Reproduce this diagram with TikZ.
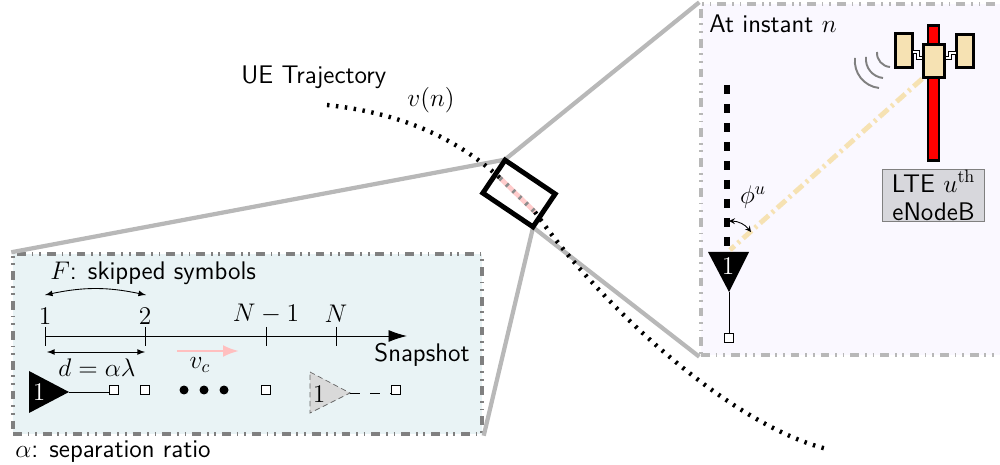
\documentclass[tikz,border=0pt]{standalone}
\usepackage{fix-cm}
\usepackage{xcolor}
\usepackage{amsmath}
\usetikzlibrary{shapes,arrows,arrows.meta,positioning,fit,calc}
\definecolor{snapfill}{RGB}{233,243,245}
\definecolor{instfill}{RGB}{250,248,255}
\definecolor{panelfill}{RGB}{246,226,179}
\definecolor{labelfill}{RGB}{215,215,220}

\begin{document}
\begin{tikzpicture}[
  x=0.02cm,y=-0.02cm,
  txt/.style={font=\fontsize{14.5}{16.5}\selectfont\sffamily,inner sep=0pt},
  num/.style={font=\fontsize{14.5}{16.5}\selectfont,inner sep=0pt},
  framed/.style={rectangle,inner sep=0pt,line width=2pt,
                 dash pattern=on 5pt off 3.3pt on 1pt off 3.3pt on 1pt off 3.4pt},
  guide/.style={line width=2.4pt,black!28},
  traj/.style={line width=2.5pt,dash pattern=on 1.4pt off 3.7pt},
  slot/.style={draw,fill=white,minimum size=0.18cm,inner sep=0pt,line width=0.5pt},
  ball/.style={circle,fill=black,minimum size=0.18cm,inner sep=0pt},
  dbl/.style={<->,>=latex,line width=0.5pt},
  tick/.style={line width=0.5pt},
  panel/.style={draw,fill=panelfill,line width=1.5pt,inner sep=0pt},
  wave/.style={line width=1.1pt,black!50},
  hinge/.style={line width=0.6pt,double=white,double distance=0.6pt}
]
\path[clip,use as bounding box] (0,0) rectangle (1000,465);
\fill[white] (0,0) rectangle (1000,465);

%% ── Zoom frames ──────────────────────────────────────────────────────────────
\node[framed,draw=black!50,fill=snapfill,minimum width=9.38cm,minimum height=3.6cm]
  (snapbox) at (247.5,344) {};
\node[framed,draw=black!28,fill=instfill,minimum width=6.3cm,minimum height=7.02cm]
  (instbox) at (858.5,179.5) {};
\node[draw=none,minimum width=1.21cm,minimum height=0.794cm,rotate=-34,inner sep=0pt]
  (zoombox) at (519,193.5) {};

%% ── Lines from the small box to the frames ───────────────────────────────────
\draw[guide] (zoombox.north west) -- (snapbox.north west);
\draw[guide] (zoombox.north west) -- (instbox.north west);
\draw[guide] (zoombox.south east) -- (snapbox.south east);
\draw[guide] (zoombox.south east) -- (instbox.south west);

%% ── Trajectory ───────────────────────────────────────────────────────────────
\coordinate (trajin) at (500,178);
\coordinate (trajout) at (535,212);
\draw[line width=2.6pt,red!20] (trajin) -- (trajout);
\draw[traj] (327,105) .. controls (400,113) and (455,137) .. (trajin);
\draw[traj,black!45] (trajin) -- (trajout);
\draw[traj] (trajout) .. controls (600,305) and (730,425) .. (827,449);
\node[draw,line width=2.8pt,minimum width=1.21cm,minimum height=0.794cm,rotate=-34,inner sep=0pt]
  (zoomframe) at (zoombox) {};
\node[txt,anchor=west] (ue) at (241,77) {UE Trajectory};
\node[num] (vn) at (431,100) {$v(n)$};

%% ── Snapshot axis ────────────────────────────────────────────────────────────
\coordinate (axstart) at (45,336);
\coordinate (axend) at (407,336);
\draw[-{Latex[length=0.37cm,width=0.24cm]},line width=0.5pt] (axstart) -- (axend);
\foreach \tx/\tname/\ttext/\ty in {45/a/1/316,145/b/2/316,266/c/N-1/314,336/d/N/314}{
  \draw[tick] (\tx,327) -- (\tx,346);
  \node[num] (t\tname) at (\tx,\ty) {$\ttext$};
}
\node[txt,anchor=west] (skip) at (50,273) {$F$: skipped symbols};
\coordinate (skipa) at (45,295);
\coordinate (skipb) at (146,295);
\draw[dbl] (skipa) to[bend left=12] (skipb);
\coordinate (spa) at (47,352);
\coordinate (spb) at (145,352);
\draw[dbl] (spa) -- (spb);
\node[num] (dist) at (97,368) {$d=\alpha\lambda$};
\coordinate (vca) at (177,351);
\coordinate (vcb) at (239,351);
\draw[-{Latex[length=0.32cm,width=0.24cm]},line width=1.5pt,red!25] (vca) -- (vcb);
\node[num] (vc) at (200,365) {$v_c$};
\node[txt] (snap) at (422,355) {Snapshot};

%% ── Antenna positions ────────────────────────────────────────────────────────
\fill (29,371) -- (69,392) -- (29,413) -- cycle;
\coordinate (tipa) at (69,392);
\node[num,text=white] (onea) at (39,392) {1};
\node[slot] (sa) at (114,390) {};
\node[slot] (sb) at (145,390) {};
\node[slot] (sc) at (266,390) {};
\node[slot] (sd) at (396,390) {};
\foreach \bx in {184,204,224}
  \node[ball] (b\bx) at (\bx,390) {};
\draw[line width=0.5pt] (tipa) -- (tipa -| sa.west);
\draw[densely dashed,draw=black!60,fill=black!15,line width=0.4pt]
  (310,372) -- (350,393) -- (310,413) -- cycle;
\coordinate (tipb) at (350,393);
\node[num] (oneb) at (319,394) {1};
\draw[line width=0.5pt,dash pattern=on 5.5pt off 6pt] (tipb) -- (tipb -| sd.west);
\node[txt,anchor=west] (sep) at (15,452) {$\alpha$: separation ratio};

%% ── Right frame: user side ───────────────────────────────────────────────────
\node[txt,anchor=west] (inst) at (709,24) {At instant $n$};
\coordinate (uetop) at (727,85);
\coordinate (uebot) at (727,254);
\draw[line width=2.9pt,dash pattern=on 5pt off 5.8pt] (uetop) -- (uebot);
\fill (708,252) -- (749,252) -- (729,292) -- cycle;
\coordinate (tipc) at (729,292);
\node[num,text=white] (onec) at (728,266) {1};
\node[slot] (se) at (729,338) {};
\draw[line width=0.5pt] (tipc) -- (se);

%% ── Right frame: tower ───────────────────────────────────────────────────────
\node[draw,fill=red,line width=1.5pt,minimum width=0.22cm,minimum height=2.7cm,inner sep=0pt]
  (pole) at (933.5,93) {};
\node[panel,minimum width=0.34cm,minimum height=0.68cm] (pl) at (904,50.5) {};
\node[panel,minimum width=0.34cm,minimum height=0.66cm] (pr) at (965,51) {};
\draw[hinge] (913,52) -- (918,52) -- (918,58) -- (925,58);
\draw[hinge] (956,53) -- (950,53) -- (950,58) -- (943,58);
\node[panel,minimum width=0.42cm,minimum height=0.66cm] (pc) at (934,61) {};
\draw[wave] (877,52) to[bend right=45] (890,67);
\draw[wave] (866,57) to[bend right=45] (883,78);
\draw[wave] (855,58) to[bend right=45] (879,88);
\draw[line width=2.8pt,panelfill,dash pattern=on 6.5pt off 2.5pt on 1.5pt off 2.5pt]
  (pc.south west) -- (730,250);
\node[draw=black!50,fill=labelfill,line width=1pt,minimum width=2.04cm,minimum height=1.04cm,
      inner sep=0pt,align=center,font=\fontsize{14.5}{16}\selectfont\sffamily] (enb) at (933.5,195.5)
  {LTE $u^{\mathrm{th}}$\\eNodeB};
\coordinate (anga) at (729,221);
\coordinate (angb) at (751,232);
\draw[dbl,>=stealth] (anga) to[bend left=25] (angb);
\node[num] (phi) at (753,197) {$\phi^u$};
\end{tikzpicture}
\end{document}
